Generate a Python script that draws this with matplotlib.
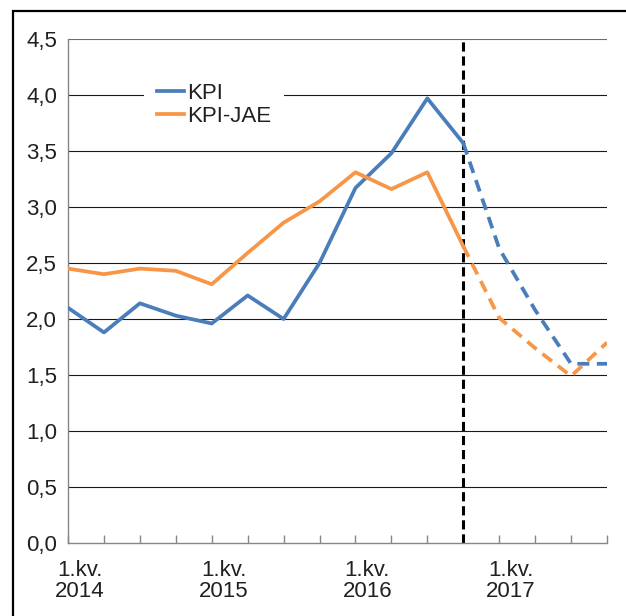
import matplotlib.pyplot as plt
from matplotlib.patches import Rectangle

plt.rcParams['font.family'] = ['Liberation Sans', 'DejaVu Sans']

# quarters 2014Q1 .. 2017Q4
quarters = [f"{q}.kv. {y}" for y in range(2014, 2018) for q in range(1, 5)]
kpi = [2.10, 1.88, 2.14, 2.03, 1.96, 2.21, 2.00, 2.50,
       3.17, 3.48, 3.97, 3.57, 2.63, 2.08, 1.60, 1.60]
kpi_jae = [2.45, 2.40, 2.45, 2.43, 2.31, 2.59, 2.86, 3.05,
           3.31, 3.16, 3.31, 2.65, 2.01, 1.74, 1.49, 1.79]
n_actual = 12  # last observed quarter: 4. kv. 2016
year_labels = ["1.kv.\n2014", "1.kv.\n2015", "1.kv.\n2016", "1.kv.\n2017"]
yticks = [0.0, 0.5, 1.0, 1.5, 2.0, 2.5, 3.0, 3.5, 4.0, 4.5]

blue = "#4a7ebb"
orange = "#f79646"
text_col = "#231f20"

fig = plt.figure(figsize=(6.26, 6.16), dpi=100)
ax = fig.add_axes([68 / 626, 1 - 543 / 616, 539 / 626, 504 / 616])

# frame around the figure (cut off on right and bottom)
fig.patches.append(Rectangle((13 / 626, -0.1), 1.2, 1.1 - 11 / 616,
                             transform=fig.transFigure, fill=False,
                             edgecolor="black", linewidth=1.6, zorder=10))

x = list(range(len(quarters)))
xa = x[:n_actual]
xf = x[n_actual - 1:]

for y in yticks[1:]:
    ax.axhline(y, color="#1a1a1a" if y < 4.5 else "#6b6b6b", lw=0.8, zorder=1)

ax.axvline(n_actual - 1, color="black", lw=2.2, dashes=(3, 1.6), zorder=2)

ax.plot(xa, kpi[:n_actual], color=blue, lw=2.7, label="KPI", zorder=3)
ax.plot(xa, kpi_jae[:n_actual], color=orange, lw=2.7, label="KPI-JAE", zorder=3)
ax.plot(xf, kpi[n_actual - 1:], color=blue, lw=2.7, dashes=(3.2, 2), zorder=3)
ax.plot(xf, kpi_jae[n_actual - 1:], color=orange, lw=2.7, dashes=(3.2, 2), zorder=3)

ax.set_xlim(0, len(quarters) - 1)
ax.set_ylim(0, 4.5)

ax.set_yticks(yticks, [f"{v:.1f}".replace(".", ",") for v in yticks])
ax.tick_params(axis="y", length=0, pad=8, labelsize=16, labelcolor=text_col)

ax.set_xticks(x, [""] * len(x))
ax.tick_params(axis="x", which="major", direction="in", length=6,
               color="#868686", width=1)
ax.set_xticks([0.33, 4.33, 8.33, 12.33], year_labels, minor=True)
ax.tick_params(axis="x", which="minor", length=0, pad=12, labelsize=16,
               labelcolor=text_col)
for lab in ax.get_xticklabels(minor=True):
    lab.set_linespacing(1.0)

for s in ["top", "right"]:
    ax.spines[s].set_visible(False)
for s in ["left", "bottom"]:
    ax.spines[s].set_color("#868686")
    ax.spines[s].set_linewidth(1)

leg = ax.legend(loc="center", bbox_to_anchor=(214 / 626, 1 - 105 / 616),
                bbox_transform=fig.transFigure, fontsize=16, frameon=True,
                facecolor="white", edgecolor="none", fancybox=False,
                handlelength=1.2, handletextpad=0.15, labelspacing=0.1,
                borderpad=0.6)
leg.get_frame().set_alpha(1)
for t in leg.get_texts():
    t.set_color(text_col)

fig.savefig("out.png", dpi=100)
